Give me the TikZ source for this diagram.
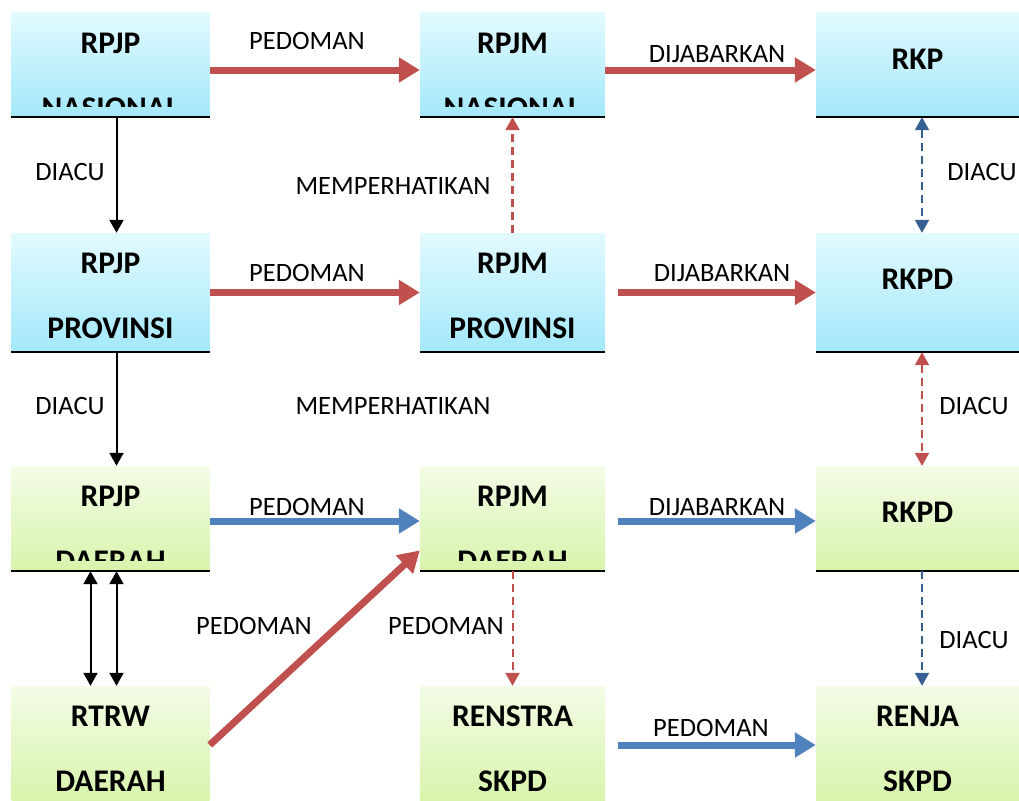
\documentclass[tikz,border=0pt]{standalone}
\usepackage{fontspec}
\setmainfont{Carlito}
\usetikzlibrary{arrows.meta}
\definecolor{arrred}{HTML}{C0504D}
\definecolor{arrblue}{HTML}{4F81BD}
\definecolor{dashblue}{HTML}{376092}
\definecolor{cyantop}{HTML}{E2FAFF}
\definecolor{cyanbot}{HTML}{A3E8FA}
\definecolor{limetop}{HTML}{F3FCE6}
\definecolor{limebot}{HTML}{D8F4AC}
\tikzset{
  fattip/.tip={Triangle[length=21pt,width=24pt]},
  thintip/.tip={Triangle[length=13pt,width=14pt]}
}
\begin{document}
\begin{tikzpicture}[x=1pt,y=-1pt,
    bluebox/.style={rectangle,inner sep=0pt,top color=cyantop,bottom color=cyanbot},
    greenbox/.style={rectangle,inner sep=0pt,top color=limetop,bottom color=limebot},
    colA/.style={minimum width=198pt},
    colB/.style={minimum width=185pt},
    colC/.style={minimum width=203pt},
    boxtitle/.style={font=\bfseries\fontsize{31.5}{31.5}\selectfont,anchor=base,inner sep=0pt},
    lbltext/.style={font=\fontsize{26.5}{26.5}\selectfont,anchor=base,inner sep=0pt},
    fatred/.style={line width=7pt,arrred,-fattip},
    fatblue/.style={line width=7pt,arrblue,-fattip},
    thinblack/.style={line width=2pt,black,-thintip},
    dashred/.style={line width=2pt,arrred,dash pattern=on 8pt off 5pt,-thintip},
    dashbl/.style={line width=2pt,dashblue,dash pattern=on 8pt off 5pt,-thintip}]
\useasboundingbox (0,0) rectangle (1019,800);
% boxes
\node[bluebox,colA,minimum height=104pt] (rpjpnas) at (110.5,65) {};
\node[bluebox,colB,minimum height=104pt] (rpjmnas) at (512.5,65) {};
\node[bluebox,colC,minimum height=104pt] (rkp) at (917.5,65) {};
\node[bluebox,colA,minimum height=119pt] (rpjpprov) at (110.5,292.5) {};
\node[bluebox,colB,minimum height=119pt] (rpjmprov) at (512.5,292.5) {};
\node[bluebox,colC,minimum height=119pt] (rkpdprov) at (917.5,292.5) {};
\node[greenbox,colA,minimum height=105pt] (rpjpdae) at (110.5,518.5) {};
\node[greenbox,colB,minimum height=105pt] (rpjmdae) at (512.5,518.5) {};
\node[greenbox,colC,minimum height=105pt] (rkpddae) at (917.5,518.5) {};
\node[greenbox,colA,minimum height=114pt] (rtrw) at (110.5,743) {};
\node[greenbox,colB,minimum height=114pt] (renstra) at (512.5,743) {};
\node[greenbox,colC,minimum height=114pt] (renja) at (917.5,743) {};
\foreach \b in {rpjpnas,rpjmnas,rkp,rpjpprov,rpjmprov,rkpdprov,rpjpdae,rpjmdae,rkpddae}
  \draw[line width=2pt] (\b.south west) -- (\b.south east);
% box texts
\node[boxtitle] (rpjpnasA) at ([yshift=-41pt]rpjpnas.north) {RPJP};
\node[boxtitle] (rpjmnasA) at ([yshift=-41pt]rpjmnas.north) {RPJM};
\node[boxtitle] (rkpA) at ([yshift=-57pt]rkp.north) {RKP};
\node[boxtitle] (rpjpprovA) at ([yshift=-41pt]rpjpprov.north) {RPJP};
\node[boxtitle] (rpjpprovB) at ([yshift=-106pt]rpjpprov.north) {PROVINSI};
\node[boxtitle] (rpjmprovA) at ([yshift=-41pt]rpjmprov.north) {RPJM};
\node[boxtitle] (rpjmprovB) at ([yshift=-106pt]rpjmprov.north) {PROVINSI};
\node[boxtitle] (rkpdprovA) at ([yshift=-57pt]rkpdprov.north) {RKPD};
\node[boxtitle] (rpjpdaeA) at ([yshift=-41pt]rpjpdae.north) {RPJP};
\node[boxtitle] (rpjmdaeA) at ([yshift=-41pt]rpjmdae.north) {RPJM};
\node[boxtitle] (rkpddaeA) at ([yshift=-57pt]rkpddae.north) {RKPD};
\node[boxtitle] (rtrwA) at ([yshift=-41pt]rtrw.north) {RTRW};
\node[boxtitle] (rtrwB) at ([yshift=-106pt]rtrw.north) {DAERAH};
\node[boxtitle] (renstraA) at ([yshift=-41pt]renstra.north) {RENSTRA};
\node[boxtitle] (renstraB) at ([yshift=-106pt]renstra.north) {SKPD};
\node[boxtitle] (renjaA) at ([yshift=-41pt]renja.north) {RENJA};
\node[boxtitle] (renjaB) at ([yshift=-106pt]renja.north) {SKPD};
% cut second lines
\foreach \b/\t in {rpjpnas/NASIONAL,rpjmnas/NASIONAL,rpjpdae/DAERAH,rpjmdae/DAERAH}{
  \begin{scope}
    \clip (\b.north west) rectangle ([yshift=11pt]\b.south east);
    \node[boxtitle] (\b B) at ([yshift=-106pt]\b.north) {\t};
  \end{scope}
}
% horizontal arrows
\draw[fatred] ([yshift=-5pt]rpjpnas.east) -- ([yshift=-5pt]rpjmnas.west);
\draw[fatred] ([yshift=-5pt]rpjmnas.east) -- ([yshift=-5pt]rkp.west);
\draw[fatred] (rpjpprov.east) -- (rpjmprov.west);
\draw[fatred] ([xshift=13pt]rpjmprov.east) -- (rkpdprov.west);
\draw[fatblue] ([yshift=-2.5pt]rpjpdae.east) -- ([yshift=-2.5pt]rpjmdae.west);
\draw[fatblue] ([xshift=13pt,yshift=-2.5pt]rpjmdae.east) -- ([yshift=-2.5pt]rkpddae.west);
\draw[fatblue] ([xshift=13pt,yshift=-2pt]renstra.east) -- ([yshift=-2pt]renja.west);
\draw[fatred] ([yshift=-2pt]rtrw.east) -- (rpjmdae.199);
% vertical arrows
\draw[thinblack] ([xshift=6pt]rpjpnas.south) -- ([xshift=6pt]rpjpprov.north);
\draw[thinblack] ([xshift=6pt]rpjpprov.south) -- ([xshift=6pt]rpjpdae.north);
\draw[thinblack,thintip-thintip] ([xshift=-20pt]rpjpdae.south) -- ([xshift=-20pt]rtrw.north);
\draw[thinblack,thintip-thintip] ([xshift=6pt]rpjpdae.south) -- ([xshift=6pt]rtrw.north);
\draw[dashred,line width=2.5pt] (rpjmprov.north) -- (rpjmnas.south);
\draw[dashbl,thintip-thintip] ([xshift=4.5pt]rkp.south) -- ([xshift=4.5pt]rkpdprov.north);
\draw[dashred,thintip-thintip] ([xshift=4.5pt]rkpdprov.south) -- ([xshift=4.5pt]rkpddae.north);
\draw[dashred] (rpjmdae.south) -- (renstra.north);
\draw[dashbl] ([xshift=4.5pt]rkpddae.south) -- ([xshift=4.5pt]renja.north);
% labels
\node[lbltext] (pedA) at (307,50) {PEDOMAN};
\node[lbltext] (jabA) at (717,63) {DIJABARKAN};
\node[lbltext] (acuA) at (70,180) {DIACU};
\node[lbltext] (perA) at (393,194) {MEMPERHATIKAN};
\node[lbltext] (acuB) at (982,180) {DIACU};
\node[lbltext] (pedB) at (307,281) {PEDOMAN};
\node[lbltext] (jabB) at (722,281) {DIJABARKAN};
\node[lbltext] (acuC) at (70,414) {DIACU};
\node[lbltext] (perB) at (393,414) {MEMPERHATIKAN};
\node[lbltext] (acuD) at (974,414) {DIACU};
\node[lbltext] (pedC) at (307,515) {PEDOMAN};
\node[lbltext] (jabC) at (717,515) {DIJABARKAN};
\node[lbltext] (pedD) at (254,634) {PEDOMAN};
\node[lbltext] (pedE) at (446,634) {PEDOMAN};
\node[lbltext] (acuE) at (974,648) {DIACU};
\node[lbltext] (pedF) at (711,736) {PEDOMAN};
\end{tikzpicture}
\end{document}
